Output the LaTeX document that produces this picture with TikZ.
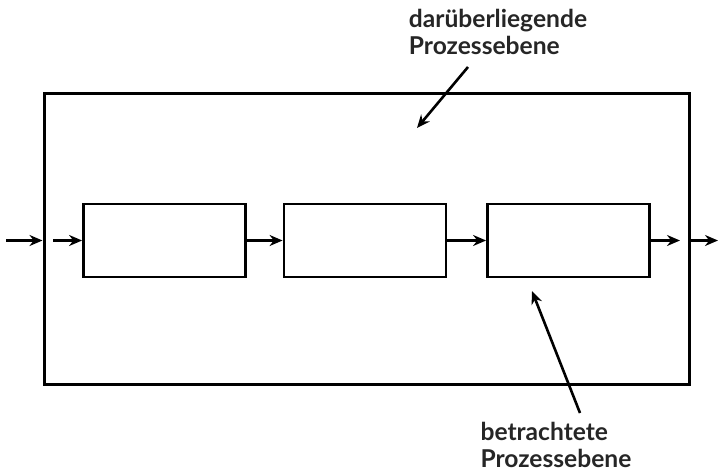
\documentclass[tikz,border=0pt]{standalone}
\usepackage{fontspec}
\setmainfont{Lato}
\usetikzlibrary{arrows.meta}

\begin{document}
\begin{tikzpicture}[x=0.5pt,y=-0.5pt,line width=1.3pt,
  >={Stealth[length=6.5pt,width=5.5pt]},
  box/.style={rectangle,draw=black,line width=1.4pt,minimum width=81pt,minimum height=36.5pt,inner sep=0pt},
  lbl/.style={align=left,font=\bfseries\fontsize{12.3}{13.5}\selectfont,text=black!85,inner sep=0pt}]
\useasboundingbox (0,0) rectangle (718,470);
\node[rectangle,draw=black,line width=1.5pt,minimum width=322.5pt,minimum height=145.5pt,inner sep=0pt](outer) at(366.5,239.5){};
\node[box](p1) at(164.5,240.5){};
\node[box](p2) at(365,240.5){};
\node[box](p3) at(568.5,240.5){};
\node[lbl](upper) at(498,32){darüberliegende\\Prozessebene};
\node[lbl](lower) at(556,445){betrachtete\\Prozessebene};
\coordinate(in) at(6,240.5);
\coordinate(in2) at(53,240.5);
\coordinate(out) at(680,240.5);
\coordinate(out2) at(718,240.5);
\coordinate(u1) at(468,67);
\coordinate(u2) at(417,128);
\coordinate(l1) at(580,413);
\coordinate(l2) at(532,291);
\draw[->](in)--(in -| outer.west);
\draw[->](in2)--(p1);
\draw[->](p1)--(p2);
\draw[->](p2)--(p3);
\draw[->](p3)--(out);
\draw[->](out -| outer.east)--(out2);
\draw[->](u1)--(u2);
\draw[->](l1)--(l2);
\end{tikzpicture}
\end{document}
